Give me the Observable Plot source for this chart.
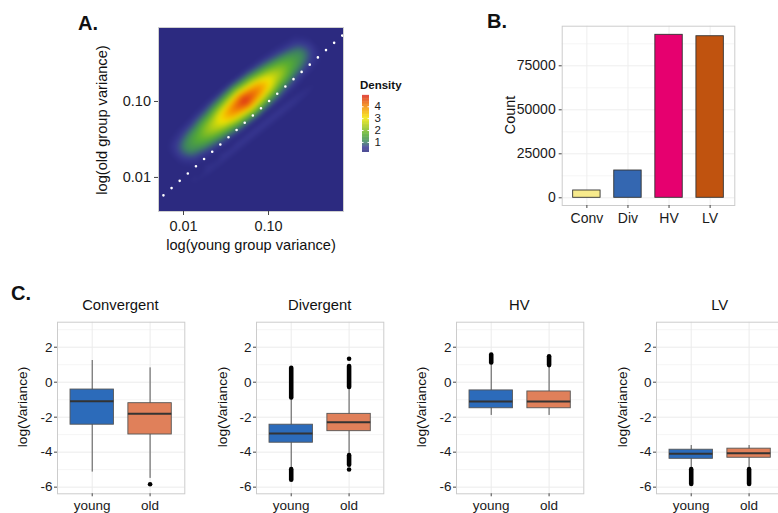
<!DOCTYPE html>
<html><head><meta charset="utf-8">
<script src="https://cdn.jsdelivr.net/npm/d3@7"></script>
<script src="https://cdn.jsdelivr.net/npm/@observablehq/plot@0.6"></script>
<style>
body{margin:0;background:#fff;overflow:hidden;font-family:"Liberation Sans",Arial,Helvetica,sans-serif;}
#fig{position:relative;width:778px;height:513px;overflow:hidden;background:#fff;}
.p{position:absolute;}
.p svg{max-width:none !important;display:block;}
.t{position:absolute;white-space:nowrap;color:#111;line-height:1;}
</style></head><body><div id="fig"></div>
<script>
// ---------- Panel A: density of log variances ----------
const aTicks = [0.01, 0.1];
const aTickLabels = ["0.01", "0.10"];
const aXDomain = [0.00508, 0.762];
const aYDomain = [0.00356, 0.942];
const aDiagonal = [0.003, 1.2];             // y = x reference line
// ridge of the main density cloud (log10 units)
const ridgeCenter = [-1.28, -0.99];
const ridgeMajor = [0.676, 0.627];
const ridgeMinor = [0.150, -0.204];
const densAlongT = [-1.25, -1, -0.75, -0.5, -0.25, 0, 0.25, 0.5, 0.75, 1, 1.25];
const densAlongPeak = [0.05, 1.1, 1.8, 2.7, 3.9, 4.9, 4.0, 2.7, 1.7, 1.0, 0.05];
const densAcrossS = [-1.25, -1, -0.75, -0.5, -0.25, 0, 0.25, 0.5, 0.75, 1, 1.25];
const densAcrossFrac = [0, 0.15, 0.34, 0.62, 0.89, 1, 0.89, 0.62, 0.34, 0.15, 0];
// faint secondary band below the diagonal
const faintCenter = [-1.215, -1.449];
const faintMajor = [0.67, 0.594];
const faintMinor = [0.045, -0.061];
const faintAlongPeak = [0, 0.3, 0.45, 0.5, 0.5, 0.5, 0.5, 0.5, 0.45, 0.3, 0];
const densColorStops = [0.15, 0.55, 1.0, 1.6, 3.0, 3.9, 4.95];
const densColors = ["#2C2A80", "#3A3A95", "#3C8560", "#55AD32", "#F3E500", "#F59000", "#D9231C"];
const legendTicks = [1, 2, 3, 4];

// ---------- Panel B: counts ----------
const bCats = ["Conv", "Div", "HV", "LV"];
const bCounts = [4150, 15500, 92600, 91800];
const bColors = ["#F7EA8C", "#3467B1", "#E6006F", "#C0530F"];
const bTicks = [0, 25000, 50000, 75000];
const bMinor = [12500, 37500, 62500, 87500];

// ---------- Panel C: boxplots ----------
const cFacets = ["Convergent", "Divergent", "HV", "LV"];
const cGroups = ["young", "old"];
const cGroupColors = ["#2C6BBA", "#E0805A"];
const cWhiskerLow  = [[-5.14, -5.5], [-4.95, -4.15], [-1.9, -1.9], [-4.95, -4.95]];
const cQ1          = [[-2.43, -2.99], [-3.46, -2.8], [-1.49, -1.49], [-4.38, -4.32]];
const cMedian      = [[-1.09, -1.81], [-2.93, -2.29], [-1.1, -1.1], [-4.09, -4.06]];
const cQ3          = [[-0.42, -1.2], [-2.43, -1.81], [-0.47, -0.53], [-3.86, -3.8]];
const cWhiskerHigh = [[1.24, 0.82], [-0.95, -0.35], [1.05, 0.9], [-3.62, -3.62]];
const cOutlierBands = [
  ["Divergent", "young", -0.9, 0.8], ["Divergent", "young", -5.6, -5.0],
  ["Divergent", "old", -0.3, 0.9], ["Divergent", "old", -4.75, -4.2],
  ["HV", "young", 1.1, 1.55], ["HV", "old", 0.95, 1.45],
  ["LV", "young", -5.85, -5.0], ["LV", "old", -5.85, -5.0]
];
const cOutlierPoints = [["Convergent", "old", -5.83], ["Divergent", "old", 1.34], ["Divergent", "old", -4.99]];
const cYTicks = [-6, -4, -2, 0, 2];
const cYMinor = [-5, -3, -1, 1, 3];
const cYDomain = [-6.38, 3.43];

// ---------- helpers ----------
const fig = document.getElementById("fig");
const FONT = "Liberation Sans, Arial, Helvetica, sans-serif";
const TXT = "#1a1a1a";
function place(node, left, top, w, h) {
  const d = document.createElement("div");
  d.className = "p"; d.style.left = left + "px"; d.style.top = top + "px";
  d.style.width = w + "px"; d.style.height = h + "px";
  d.appendChild(node); fig.appendChild(d);
}
function addText(str, x, y, size, opts = {}) {
  const s = document.createElement("div");
  s.className = "t"; s.textContent = str;
  s.style.fontSize = size + "px";
  if (opts.bold) s.style.fontWeight = "bold";
  s.style.left = x + "px"; s.style.top = y + "px";
  let tr = opts.left ? "translate(0,-50%)" : "translate(-50%,-50%)";
  if (opts.rotate) tr += " rotate(-90deg)";
  s.style.transform = tr;
  fig.appendChild(s);
}
const baseStyle = (fs) => ({fontFamily: FONT, fontSize: fs + "px", color: TXT, background: "transparent", overflow: "visible", maxWidth: "none"});

// ---------- Panel A ----------
const densPts = [];
function addRidge(center, major, minor, peaks) {
  densAlongT.forEach((t, i) => densAcrossS.forEach((s, j) => {
    const lx = center[0] + t * major[0] + s * minor[0];
    const ly = center[1] + t * major[1] + s * minor[1];
    densPts.push({x: Math.pow(10, lx), y: Math.pow(10, ly), v: peaks[i] * densAcrossFrac[j]});
  }));
}
addRidge(ridgeCenter, ridgeMajor, ridgeMinor, densAlongPeak);
addRidge(faintCenter, faintMajor, faintMinor, faintAlongPeak);
// zero-density background around the frame edges
for (const fx of [0, 0.25, 0.5, 0.75, 1]) for (const fy of [0, 0.25, 0.5, 0.75, 1]) {
  if (fx === 0 || fx === 1 || fy === 0 || fy === 1) {
    const lx = Math.log10(aXDomain[0]) + fx * (Math.log10(aXDomain[1]) - Math.log10(aXDomain[0]));
    const ly = Math.log10(aYDomain[0]) + fy * (Math.log10(aYDomain[1]) - Math.log10(aYDomain[0]));
    densPts.push({x: Math.pow(10, lx), y: Math.pow(10, ly), v: 0});
  }
}
const aFmt = d => aTickLabels[aTicks.findIndex(t => Math.abs(t - d) < 1e-9)];
const densColor = {type: "linear", domain: densColorStops, range: densColors, clamp: true};
const plotA = Plot.plot({
  width: 360, height: 260,
  marginLeft: 158, marginRight: 17, marginTop: 27, marginBottom: 49,
  style: baseStyle(14.5),
  x: {type: "log", domain: aXDomain, label: null},
  y: {type: "log", domain: aYDomain, label: null},
  color: densColor,
  marks: [
    Plot.raster(densPts, {x: "x", y: "y", fill: "v", interpolate: "barycentric", blur: 2}),
    Plot.line(aDiagonal, {x: d => d, y: d => d, stroke: "white", strokeWidth: 2.6, strokeDasharray: "0 10.9", strokeLinecap: "round", clip: true}),
    Plot.frame({stroke: "#cfcfcf"}),
    Plot.axisX({ticks: aTicks, tickFormat: aFmt, tickSize: 4, tickPadding: 5, label: null, stroke: "#444", fill: TXT}),
    Plot.axisY({ticks: aTicks, tickFormat: aFmt, tickSize: 4, tickPadding: 3.5, label: null, stroke: "#444", fill: TXT})
  ]
});
place(plotA, 0, 0, 360, 260);

// colour bar legend
const legendSteps = d3.range(densColorStops[0], densColorStops[densColorStops.length - 1], 0.05);
const plotLegend = Plot.plot({
  width: 42, height: 72,
  marginLeft: 7, marginRight: 28, marginTop: 5, marginBottom: 10,
  style: baseStyle(11.5),
  x: {domain: [0, 1], axis: null},
  y: {domain: [densColorStops[0], densColorStops[densColorStops.length - 1]], label: null},
  color: densColor,
  marks: [
    Plot.rect(legendSteps, {x1: 0, x2: 1, y1: d => d, y2: d => d + 0.06, fill: d => d}),
    Plot.ruleY(legendTicks, {x1: 0, x2: 0.22, stroke: "white"}),
    Plot.ruleY(legendTicks, {x1: 0.78, x2: 1, stroke: "white"}),
    Plot.axisY({anchor: "right", ticks: legendTicks, tickFormat: d => String(d), tickSize: 0, tickPadding: 5, label: null, fill: TXT})
  ]
});
place(plotLegend, 355, 90, 42, 72);

// ---------- Panel B ----------
const bData = bCats.map((c, i) => ({cat: c, n: bCounts[i]}));
const plotB = Plot.plot({
  width: 338, height: 260,
  marginLeft: 121.7, marginRight: 43.7, marginTop: 25.7, marginBottom: 55,
  style: baseStyle(14),
  x: {domain: bCats, paddingInner: 0.333, paddingOuter: 0.267, round: false, label: null},
  y: {domain: [-4375, 97500], label: null},
  color: {domain: bCats, range: bColors},
  marks: [
    Plot.gridY(bMinor, {stroke: "#f6f6f6", strokeOpacity: 1}),
    Plot.gridY(bTicks, {stroke: "#eeeeee", strokeOpacity: 1}),
    Plot.gridX(bCats, {stroke: "#eeeeee", strokeOpacity: 1}),
    Plot.barY(bData, {x: "cat", y1: 0, y2: "n", fill: "cat", stroke: "#333", strokeWidth: 0.9}),
    Plot.frame({stroke: "#cccccc"}),
    Plot.axisX({tickSize: 3, tickPadding: 5, label: null, stroke: "#444", fill: TXT}),
    Plot.axisY({ticks: bTicks, tickFormat: d => String(d), tickSize: 3, tickPadding: 3.5, label: null, stroke: "#444", fill: TXT})
  ]
});
place(plotB, 440, 0, 338, 260);

// ---------- Panel C ----------
const cFrameLeft = [56.7, 256, 455.7, 656];
cFacets.forEach((f, i) => {
  const rows = cGroups.map((g, j) => ({g, lo: cWhiskerLow[i][j], q1: cQ1[i][j], med: cMedian[i][j], q3: cQ3[i][j], hi: cWhiskerHigh[i][j]}));
  const bands = cOutlierBands.filter(d => d[0] === f).map(d => ({g: d[1], lo: d[2], hi: d[3]}));
  const pts = cOutlierPoints.filter(d => d[0] === f).map(d => ({g: d[1], v: d[2]}));
  const p = Plot.plot({
    width: 200, height: 233,
    marginLeft: 57, marginRight: 15.7, marginTop: 41.7, marginBottom: 19.7,
    style: baseStyle(13.5),
    x: {domain: cGroups, paddingInner: 0.25, paddingOuter: 0.225, round: false, label: null},
    y: {domain: cYDomain, label: null},
    color: {domain: cGroups, range: cGroupColors},
    marks: [
      Plot.gridY(cYMinor, {stroke: "#f5f5f5", strokeOpacity: 1}),
      Plot.gridY(cYTicks, {stroke: "#ebebeb", strokeOpacity: 1}),
      Plot.gridX(cGroups, {stroke: "#ebebeb", strokeOpacity: 1}),
      Plot.ruleX(rows, {x: "g", y1: "lo", y2: "hi", stroke: "#555", strokeWidth: 1}),
      Plot.ruleX(bands, {x: "g", y1: "lo", y2: "hi", stroke: "#000", strokeWidth: 4.6, strokeLinecap: "round"}),
      Plot.dot(pts, {x: "g", y: "v", r: 2.3, fill: "#000", stroke: null}),
      Plot.barY(rows, {x: "g", y1: "q1", y2: "q3", fill: "g", stroke: "#555", strokeWidth: 0.9}),
      Plot.tickY(rows, {x: "g", y: "med", stroke: "#333", strokeWidth: 2}),
      Plot.frame({stroke: "#cccccc"}),
      Plot.axisX({tickSize: 3, tickPadding: 4, label: null, stroke: "#444", fill: TXT}),
      Plot.axisY({ticks: cYTicks, tickFormat: d => String(d), tickSize: 3, tickPadding: 2, label: null, stroke: "#444", fill: TXT})
    ]
  });
  place(p, cFrameLeft[i] - 57, 280, 200, 233);
  addText(f, cFrameLeft[i] + 63.7, 305, 14.8);
  addText("log(Variance)", cFrameLeft[i] - 33.5, 407, 13.7, {rotate: true});
});

// ---------- text ----------
addText("A.", 88, 23, 20, {bold: true});
addText("B.", 497, 21, 20, {bold: true});
addText("C.", 21, 293, 20, {bold: true});
addText("log(young group variance)", 251, 245, 14.6);
addText("log(old group variance)", 101.7, 120, 14.6, {rotate: true});
addText("Density", 360, 86, 11.5, {bold: true, left: true});
addText("Count", 510, 115, 14.4, {rotate: true});
</script></body></html>
